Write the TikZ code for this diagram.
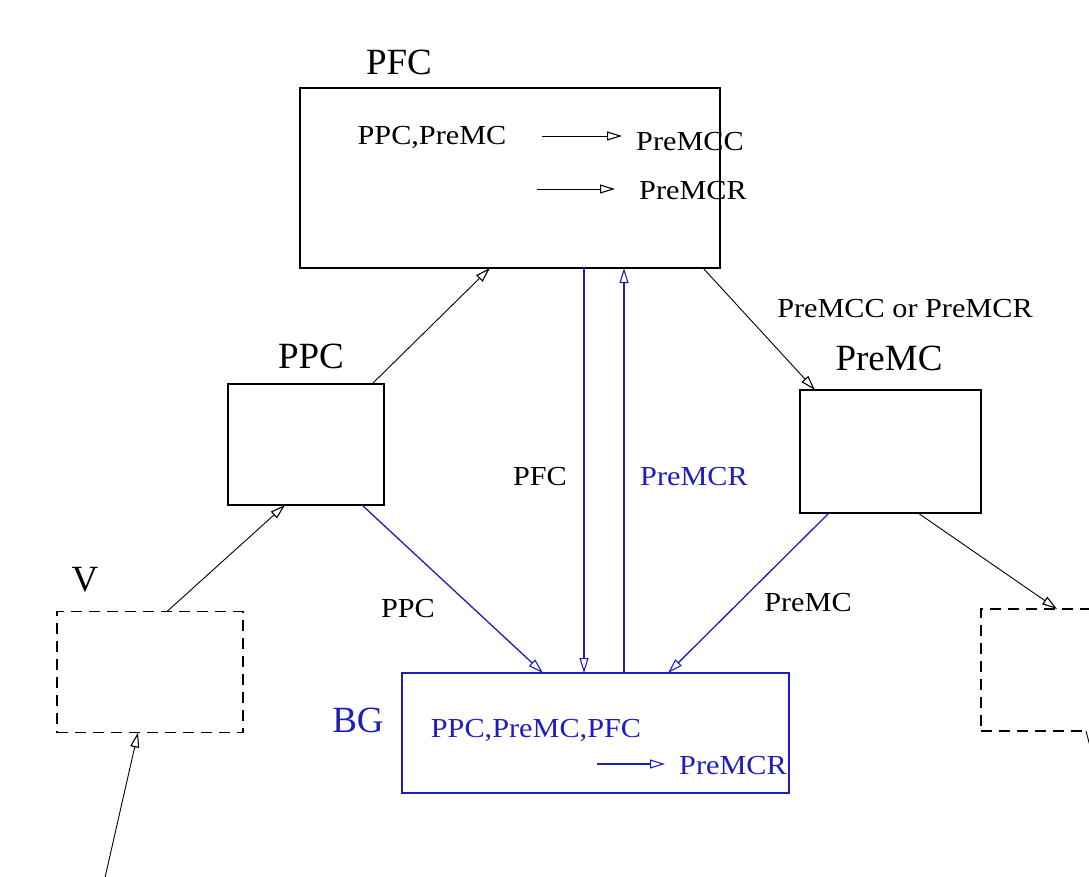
\documentclass[tikz,border=0pt]{standalone}
\usepackage{fontspec}
\setmainfont{Liberation Serif}
\newfontfamily\widefont[FakeStretch=1.1]{Liberation Serif}
\usetikzlibrary{arrows.meta}
\definecolor{bgblue}{RGB}{30,30,190}
\tikzset{
  box/.style={draw, line width=1.5pt, inner sep=0pt, outer sep=0pt},
  dbox/.style={box, line width=1.8pt, dash pattern=on 11pt off 7pt},
  title/.style={font=\fontsize{37}{40}\selectfont, inner sep=0pt},
  lbl/.style={font=\widefont\fontsize{27.5}{30}\selectfont, inner sep=0pt},
  conn/.style={line width=0.9pt, -{Triangle[open, length=15pt, width=9pt, line width=1.1pt]}},
  bconn/.style={conn, draw=bgblue, line width=1.3pt},
}
\begin{document}
\begin{tikzpicture}[x=1pt, y=-1pt]
\clip (0,0) rectangle (1089,877);
\fill[white] (0,0) rectangle (1089,877);
% boxes
\node[box, minimum width=420pt, minimum height=180pt] (pfc) at (510,178) {};
\node[box, minimum width=156pt, minimum height=121pt] (ppc) at (306,444.5) {};
\node[box, minimum width=181pt, minimum height=123pt] (premc) at (890.5,451.5) {};
\node[dbox, minimum width=186pt, minimum height=121pt] (v) at (150,672) {};
\node[dbox, minimum width=210pt, minimum height=122pt] (out) at (1086,670) {};
\node[box, draw=bgblue, minimum width=387pt, minimum height=120pt] (bg) at (595.5,733) {};
% titles
\node[title] (tpfc) at (399,62) {PFC};
\node[title] (tppc) at (311,356) {PPC};
\node[title] (tpremc) at (889,358) {PreMC};
\node[title] (tv) at (85,580) {V};
\node[title, text=bgblue] (tbg) at (358,720) {BG};
% PFC contents
\node[lbl] (p1) at (432,138) {PPC,PreMC};
\node[lbl, anchor=west] (p2) at (636,142) {PreMCC};
\node[lbl, anchor=west] (p3) at (639,191) {PreMCR};
\coordinate (a1s) at (542,136); \coordinate (a1e) at (622,136);
\coordinate (a2s) at (537,189); \coordinate (a2e) at (615,189);
\draw[conn] (a1s) -- (a1e);
\draw[conn] (a2s) -- (a2e);
% BG contents
\node[lbl, text=bgblue] (b1) at (536,731) {PPC,PreMC,PFC};
\node[lbl, text=bgblue, anchor=west] (b2) at (679,766) {PreMCR};
\coordinate (b3s) at (597,764); \coordinate (b3e) at (665,764);
\draw[bconn] (b3s) -- (b3e);
% black connectors
\draw[conn] ([xshift=66pt]ppc.north) -- ([xshift=-20pt]pfc.south);
\draw[conn] ([xshift=17pt]v.north) -- ([xshift=-21pt]ppc.south);
\coordinate (vin) at (104,882);
\draw[conn] (vin) -- ([xshift=-12pt]v.south);
\draw[conn] ([xshift=193pt]pfc.south) -- ([xshift=-75.5pt]premc.north);
\draw[conn] ([xshift=27.5pt]premc.south) -- ([xshift=-29pt]out.north);
\coordinate (outb) at (1086,731);
\coordinate (outx) at (1091,750);
\draw[line width=0.9pt] (outb) -- (outx);
% blue connectors
\draw[bconn] ([xshift=56pt]ppc.south) -- ([xshift=-52.5pt]bg.north);
\draw[bconn] ([xshift=74pt]pfc.south) -- ([xshift=-11.5pt]bg.north);
\draw[bconn] ([xshift=28.5pt]bg.north) -- ([xshift=114pt]pfc.south);
\draw[bconn] ([xshift=-61.5pt]premc.south) -- ([xshift=72.5pt]bg.north);
% connector labels
\node[lbl] (l1) at (905,309) {PreMCC or PreMCR};
\node[lbl] (l2) at (540,477) {PFC};
\node[lbl, text=bgblue] (l3) at (694,477) {PreMCR};
\node[lbl] (l4) at (408,609) {PPC};
\node[lbl] (l5) at (808,603) {PreMC};
\end{tikzpicture}
\end{document}
